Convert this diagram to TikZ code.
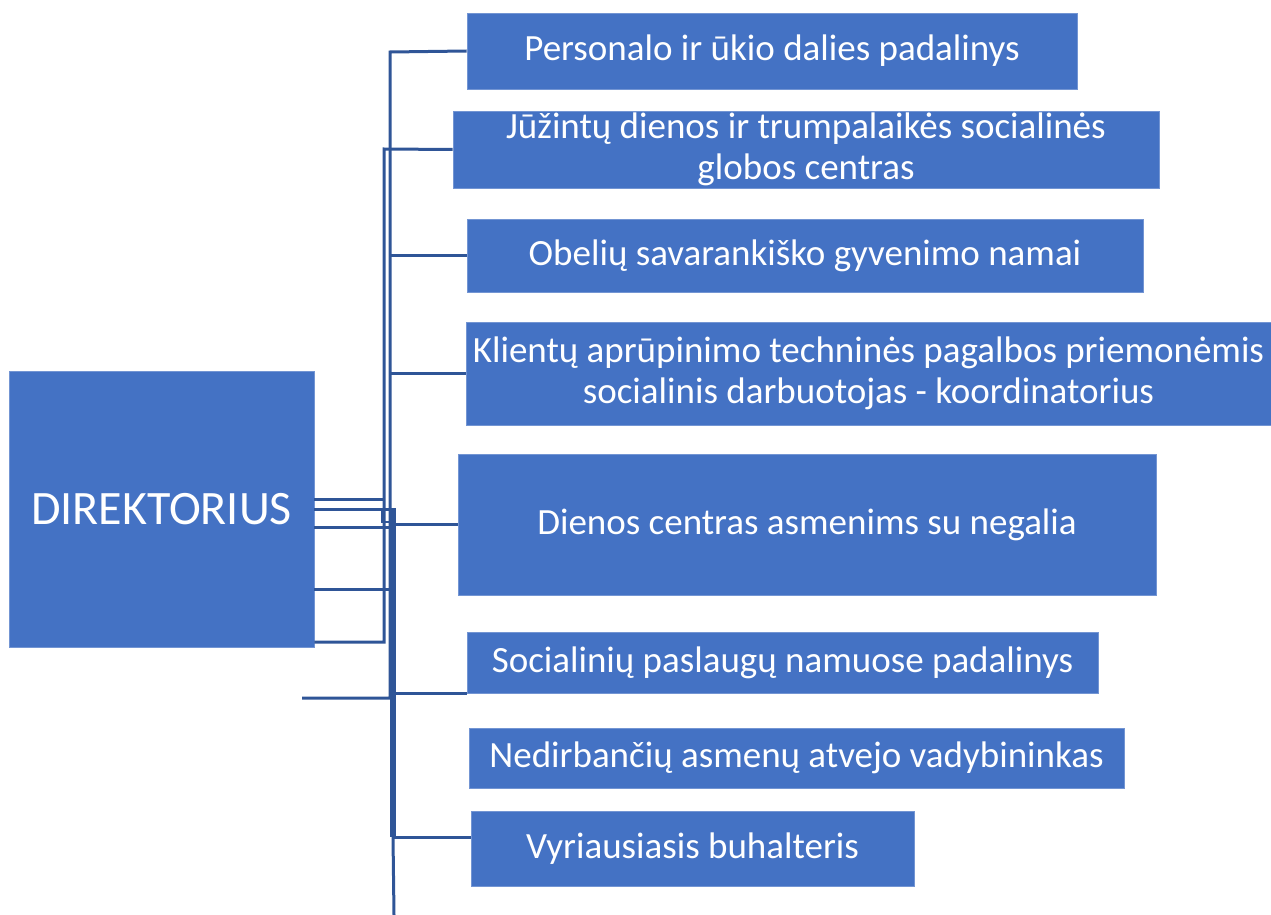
\documentclass[tikz,border=0pt]{standalone}
\usepackage{fontspec}
\setmainfont{Carlito}
\usetikzlibrary{positioning}
\definecolor{boxblue}{HTML}{4472C4}
\definecolor{lineblue}{HTML}{2F5597}
\tikzset{unit node/.style={rectangle,fill=boxblue,draw=boxblue!75!white,line width=0.8pt,text=white,inner sep=0pt,align=center,font=\fontsize{37}{41}\selectfont},
  link/.style={draw=lineblue,line width=3pt},
}

\begin{document}
\begin{tikzpicture}[x=1pt,y=-1pt]
	\useasboundingbox (0,0) rectangle (1271,915);
	\node[unit node,minimum width=305pt,minimum height=276pt,font=\fontsize{48}{52}\selectfont] (dir) at (161.5,509) {DIREKTORIUS};
	\node[unit node,minimum width=610pt,minimum height=76pt] (pers) at (772,51) {Personalo ir ūkio dalies padalinys};
	\node[unit node,minimum width=706pt,minimum height=77pt] (juz) at (806,149.5) {Jūžintų dienos ir trumpalaikės socialinės\\globos centras};
	\node[unit node,minimum width=676pt,minimum height=73pt] (obel) at (805,255.5) {Obelių savarankiško gyvenimo namai};
	\node[unit node,minimum width=805pt,minimum height=103pt] (klient) at (868.5,373.5) {Klientų aprūpinimo techninės pagalbos priemonėmis\\socialinis darbuotojas - koordinatorius};
	\node[unit node,minimum width=698pt,minimum height=141pt] (dien) at (807,524.5) {Dienos centras asmenims su negalia};
	\node[unit node,minimum width=631pt,minimum height=61pt] (soc) at (782.5,662.5) {Socialinių paslaugų namuose padalinys};
	\node[unit node,minimum width=655pt,minimum height=60pt] (nedirb) at (796.5,758) {Nedirbančių asmenų atvejo vadybininkas};
	\node[unit node,minimum width=443pt,minimum height=75pt] (buh) at (692.5,848.5) {Vyriausiasis buhalteris};
	
	% bus lines
	\coordinate (a1) at (390,52);
	\coordinate (a2) at (390,698);
	\coordinate (loose) at (302,698);
	\coordinate (b1) at (384,149);
	\coordinate (b2) at (384,642);
	\coordinate (c1) at (393,509);
	\coordinate (c2) at (393,837);
	\coordinate (c3) at (394,915);
	\node[draw=lineblue,line width=2pt,minimum size=13pt,inner sep=0pt] (knot) at (388.5,515.5) {};
	
	\draw[link] (pers.west) -- (a1) -- (a2) -- (loose);
	\draw[link] (juz.west) -- (b1) -- (b2) -- (dir.east |- b2);
	\draw[link,line width=5.5pt] (c1) -- (c2);
	\draw[link] (c2) -- (c3);
	
	\path[link]
	(a1 |- obel.west) edge (obel.west)
	(a1 |- klient.west) edge (klient.west)
	(c1 |- dien.west) edge (dien.west)
	(c1 |- soc.south west) edge (soc.south west)
	(c2) edge (buh.west |- c2)
	(dir.east |- 0,499) edge (b1 |- 0,499)
	(dir.east |- c1) edge (c1)
	(dir.east |- 0,527) edge (a1 |- 0,527)
	(dir.east |- 0,589) edge (a1 |- 0,589);
\end{tikzpicture}
\end{document}
